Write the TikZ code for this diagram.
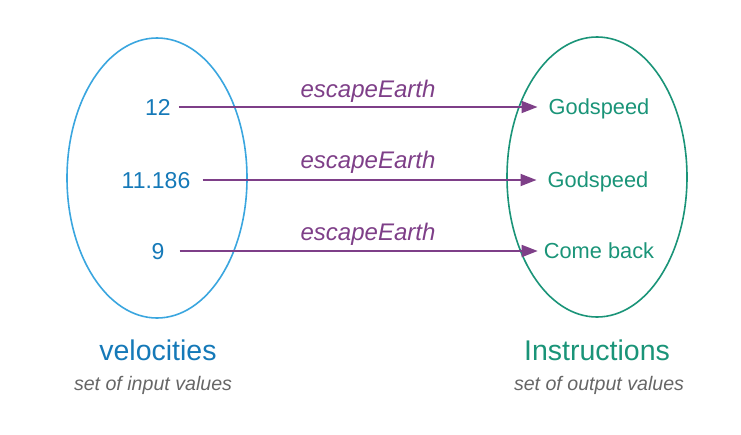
\documentclass[tikz,border=0pt]{standalone}
\usepackage{fontspec}
\setmainfont{Liberation Sans}
\usetikzlibrary{arrows.meta}
\definecolor{setblue}{HTML}{3AA6DF}
\definecolor{numblue}{HTML}{1579B8}
\definecolor{outgreen}{HTML}{1A9478}
\definecolor{funpurple}{HTML}{7E3F88}
\definecolor{subgray}{HTML}{666666}
\tikzset{
  setshape/.style={draw, line width=1.6pt},
  inval/.style={text=numblue, font=\fontsize{23}{23}\selectfont, text height=16.5pt, text depth=0pt, inner ysep=0pt, inner xsep=8pt},
  outval/.style={text=outgreen, font=\fontsize{21.8}{22}\selectfont, text height=15.8pt, text depth=0pt, inner ysep=0pt, inner xsep=11pt},
  maparrow/.style={draw=funpurple, line width=1.8pt, -{Triangle[length=16pt,width=12pt]}},
  funlabel/.style={text=funpurple, font=\fontsize{24}{24}\selectfont\itshape},
  settitle/.style={font=\fontsize{28.5}{29}\selectfont},
  subtitle/.style={text=subgray, font=\fontsize{19.6}{20}\selectfont\itshape}
}
\begin{document}
\begin{tikzpicture}[x=1pt,y=-1pt]
\useasboundingbox (0,0) rectangle (741,434);
% sets
\draw[setshape, setblue] (157,178) ellipse [x radius=90, y radius=140];
\draw[setshape, outgreen] (597,177) ellipse [x radius=90, y radius=140];
% input values
\node[inval] (n1) at (158,107) {12};
\node[inval] (n2) at (156,180) {11.186};
\node[inval, inner xsep=15pt] (n3) at (158,251) {9};
% output values
\node[outval] (g1) at (599,107) {Godspeed};
\node[outval] (g2) at (598,180) {Godspeed};
\node[outval, inner xsep=6pt] (g3) at (599,251) {Come back};
% arrows
\draw[maparrow] (n1.east) -- (g1.west);
\draw[maparrow, shorten <=4pt] (n2.east) -- (g2.west);
\draw[maparrow] (n3.east) -- (g3.west);
% function labels
\node[funlabel] (f1) at (368,91) {escapeEarth};
\node[funlabel] (f2) at (368,162) {escapeEarth};
\node[funlabel] (f3) at (368,234) {escapeEarth};
% titles
\node[settitle, text=numblue] (t1) at (158,350) {velocities};
\node[subtitle] (s1) at (153,385) {set of input values};
\node[settitle, text=outgreen] (t2) at (597,350) {Instructions};
\node[subtitle] (s2) at (599,385) {set of output values};
\end{tikzpicture}
\end{document}
